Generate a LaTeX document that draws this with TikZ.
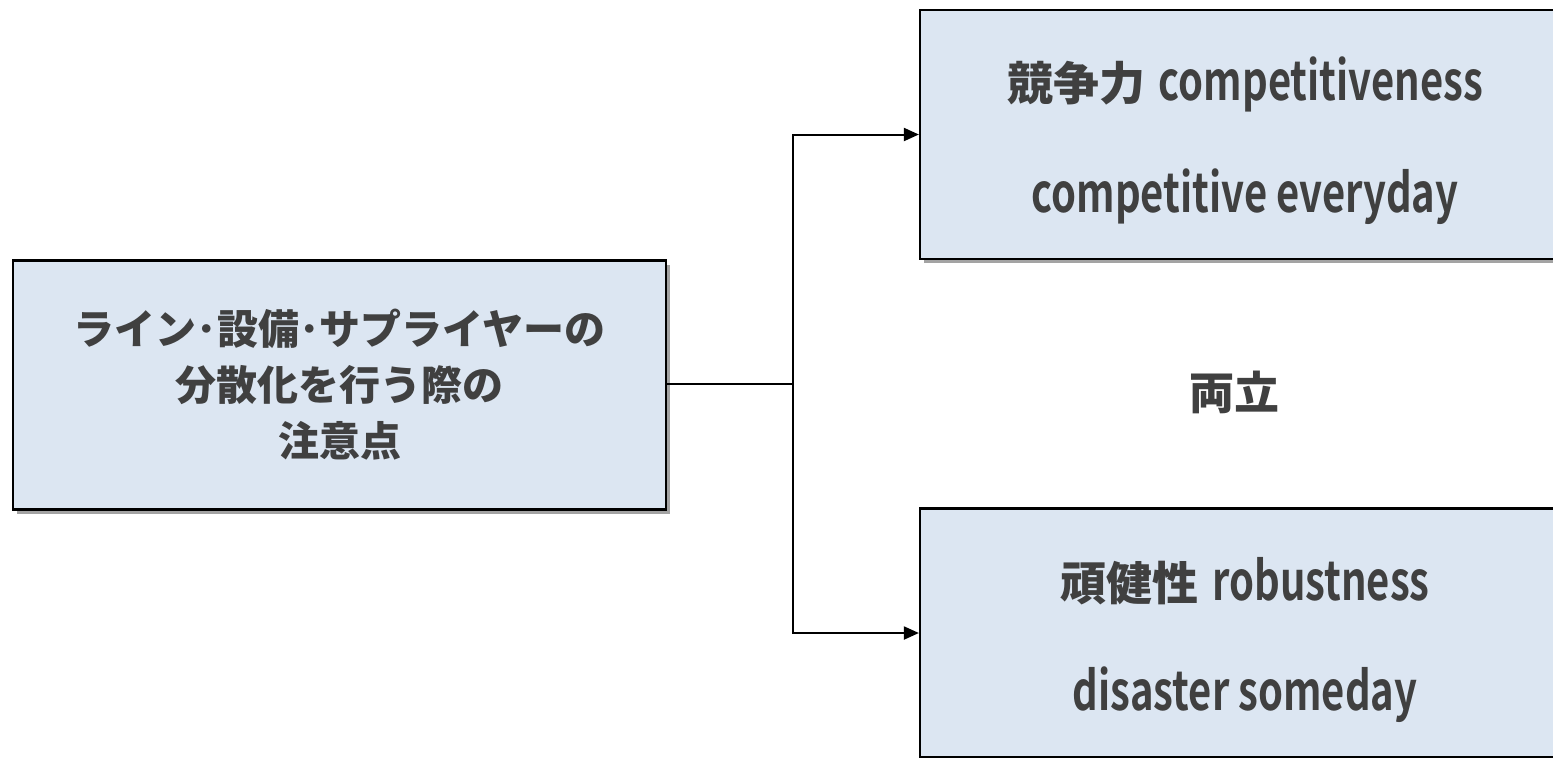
\documentclass[tikz,border=0pt]{standalone}
\usepackage{fontspec}
\newfontfamily\jp{Noto Sans CJK JP}
\newfontfamily\lat[FakeStretch=0.74]{Noto Sans CJK JP Bold}
\usetikzlibrary{arrows.meta,shadows}
\definecolor{boxfill}{HTML}{DCE6F2}
\definecolor{txtc}{HTML}{404040}
\tikzset{
  boxst/.style={draw=black, line width=1.1pt, fill=boxfill, inner sep=0pt,
    align=center, text=txtc,
    drop shadow={shadow xshift=2pt, shadow yshift=-2pt, opacity=0.6, fill=black!60}},
  conn/.style={draw=black, line width=1pt},
  arr/.style={conn, -{Triangle[length=7.5pt,width=6.5pt]}},
  lbl/.style={text=txtc, inner sep=0pt},
  linetxt/.style={lbl, anchor=base, font=\fontsize{23}{28}\selectfont},
  latin/.style={font=\lat\fontsize{27}{28}\selectfont}
}
\newcommand{\latt}[1]{{\lat\fontsize{27}{28}\selectfont #1}}
\begin{document}
\begin{tikzpicture}[x=0.5pt,y=-0.5pt]
\useasboundingbox (0,0) rectangle (1553,757);
\clip (0,0) rectangle (1553,757);
\node[boxst, minimum width=326.5pt, minimum height=124.5pt,
  font=\jp\bfseries\fontsize{20.5}{28}\selectfont] (L) at (339.5,385)
  {ライン･設備･サプライヤーの\\分散化を行う際の\\注意点};
\node[boxst, minimum width=325pt, minimum height=124.5pt] (T) at (1245,134.5) {};
\node[boxst, minimum width=325pt, minimum height=124.5pt] (B) at (1245,633) {};
\node[linetxt] (T1) at (1245,100) {{\jp\bfseries 競争力} \latt{competitiveness}};
\node[linetxt] (T2) at (1245,212) {\latt{competitive everyday}};
\node[linetxt] (B1) at (1245,600) {{\jp\bfseries 頑健性} \latt{robustness}};
\node[linetxt] (B2) at (1245,710) {\latt{disaster someday}};
\node[lbl, font=\jp\bfseries\fontsize{22.5}{26}\selectfont] (R) at (1234,392) {両立};
\coordinate (J) at (793,383.5);
\draw[conn] (L.east |- J) -- (J);
\draw[arr] (J) |- (T);
\draw[arr] (J) |- (B);
\end{tikzpicture}
\end{document}
